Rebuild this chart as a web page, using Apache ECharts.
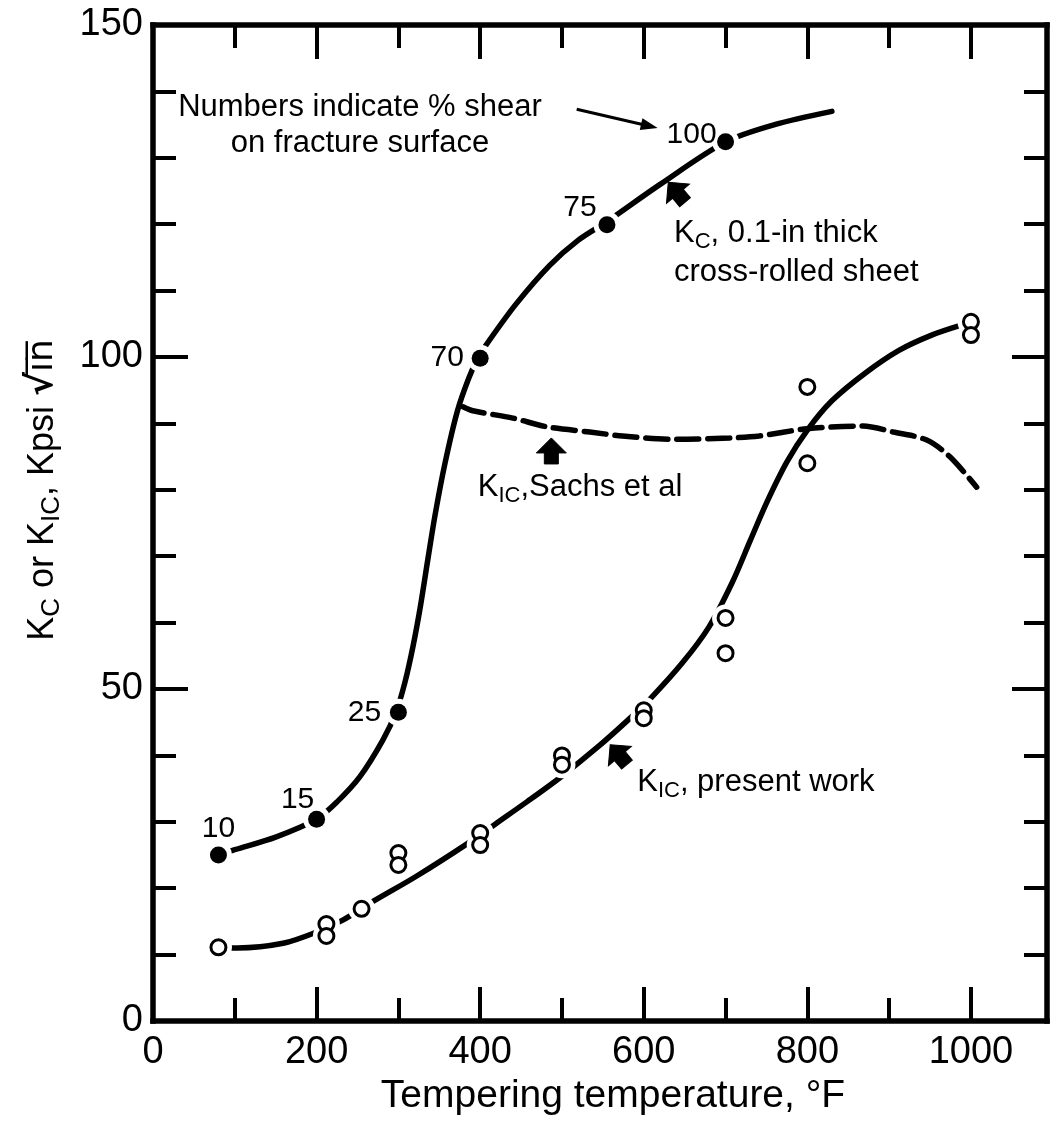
<!DOCTYPE html>
<html><head><meta charset="utf-8">
<script src="https://cdn.jsdelivr.net/npm/echarts@6/dist/echarts.min.js"></script>
<style>html,body{margin:0;padding:0;background:#fff}#c{width:1050px;height:1134px}</style>
</head><body><div id="c"></div>
<script>
// ---------------- data ----------------
const xTickLabels = [0, 200, 400, 600, 800, 1000];
const yTickLabels = [0, 50, 100, 150];

// Kc, 0.1-in thick cross-rolled sheet (filled points, % shear labels)
const kcTemps  = [80, 200, 300, 400, 555, 700];
const kcValues = [25, 30.4, 46.5, 99.8, 119.9, 132.4];
const kcShear  = ['10', '15', '25', '70', '75', '100'];
// fitted curve through the Kc points
const kcCurveX = [80, 100, 150, 200, 225, 253, 281, 297, 308, 318, 327, 336, 345, 357, 372, 386, 397, 410, 444, 485, 520, 555, 620, 700, 760, 830];
const kcCurveY = [25, 25.8, 27.7, 30.4, 33.0, 36.8, 42.3, 46.5, 51.0, 56.5, 62.5, 69.5, 76.3, 84.0, 91.8, 96.8, 99.8, 102.3, 108.0, 113.8, 117.6, 120.4, 126.0, 132.4, 135.0, 137.0];

// KIC, present work (open circles)
const kicTemps  = [80, 212, 212, 255, 300, 300, 400, 400, 500, 500, 600, 600, 700, 700, 800, 800, 1000, 1000];
const kicValues = [11.1, 14.6, 12.8, 16.9, 25.3, 23.5, 28.3, 26.5, 40.0, 38.6, 46.8, 45.6, 60.7, 55.4, 95.5, 84.0, 105.3, 103.3];
const kicCurveX = [80, 103, 159, 200, 232, 269, 322, 383, 420, 457, 497, 546, 585, 607, 647, 680, 708, 730, 750, 775, 800, 830, 871, 912, 952, 988];
const kicCurveY = [11, 11, 11.7, 13.4, 15.2, 18.0, 21.8, 26.6, 29.8, 33.0, 36.6, 41.5, 45.8, 48.4, 53.9, 59.4, 66.0, 72.3, 78.0, 84.2, 89.0, 93.4, 97.6, 101.0, 103.3, 104.8];

// KIC, Sachs et al (dashed)
const sachsCurveX = [379, 391, 440, 481, 534, 574, 640, 705, 741, 800, 868, 905, 946, 974, 1007];
const sachsCurveY = [92.5, 91.9, 90.8, 89.5, 88.7, 88.1, 87.6, 87.8, 88.1, 89.2, 89.6, 88.7, 87.5, 85, 80.4];

// ---------------- layout / style ----------------
const FONT = '"Liberation Sans", Arial, sans-serif';
const INK = '#000';
const X_MAX = 1093;
const kcLabelOffsets = [[0, -26], [-19, -19], [-34, 0], [-33, -1], [-27, -17], [-34, -7]];

const zip = (a, b) => a.map((v, i) => [v, b[i]]);

function xAxisDef(position, interval, tickLen, showLine, showLabel, extra) {
  return Object.assign({
    type: 'value', position: position, min: 0, max: X_MAX, interval: interval,
    axisLine: { show: showLine, onZero: false, lineStyle: { color: INK, width: 5.5, cap: 'square' } },
    axisTick: { show: true, inside: true, length: tickLen, lineStyle: { color: INK, width: 4 } },
    axisLabel: { show: showLabel, margin: 13, fontSize: 38, color: INK, fontFamily: FONT,
      formatter: v => xTickLabels.includes(v) ? String(v) : '' },
    splitLine: { show: false }
  }, extra || {});
}
function yAxisDef(position, showLabel, extra) {
  return Object.assign({
    type: 'value', position: position, min: 0, max: 150, interval: 50,
    axisLine: { show: true, onZero: false, lineStyle: { color: INK, width: 5.5, cap: 'square' } },
    axisTick: { show: true, inside: true, length: 35, lineStyle: { color: INK, width: 4 } },
    minorTick: { show: true, splitNumber: 5, length: 23, lineStyle: { color: INK, width: 4 } },
    axisLabel: { show: showLabel, margin: 10, fontSize: 38, color: INK, fontFamily: FONT,
      formatter: v => yTickLabels.includes(v) ? String(v) : '' },
    splitLine: { show: false }, minorSplitLine: { show: false }
  }, extra || {});
}

const kcPoints = kcTemps.map((t, i) => ({
  value: [t, kcValues[i]],
  label: { offset: kcLabelOffsets[i] }
}));

const option = {
  backgroundColor: '#fff',
  animation: false,
  grid: { left: 153, right: 3, top: 25, bottom: 113, containLabel: false },
  xAxis: [
    xAxisDef('bottom', 200, 34, true, true, {
      name: 'Tempering temperature, °F', nameLocation: 'middle', nameGap: 54,
      nameTextStyle: { fontSize: 39, color: INK, fontFamily: FONT, padding: [0, 0, 0, 26] }
    }),
    xAxisDef('bottom', 100, 23, false, false),
    xAxisDef('top', 200, 34, true, false),
    xAxisDef('top', 100, 23, false, false)
  ],
  yAxis: [
    yAxisDef('left', true, {
      name: '{k|K}{s|C}{k| or K}{s|IC}{k|, Kpsi }{r|√}{o|i\u0305n\u0305}',
      nameLocation: 'middle', nameGap: 88,
      nameTextStyle: {
        color: INK, fontFamily: FONT, padding: [0, 0, 0, 66],
        rich: {
          k: { fontSize: 36, fontFamily: FONT, color: INK, lineHeight: 44 },
          s: { fontSize: 26, fontFamily: FONT, color: INK, lineHeight: 30, verticalAlign: 'bottom' },
          r: { fontSize: 36, fontFamily: '"DejaVu Sans", sans-serif', fontWeight: 'bold', color: INK, lineHeight: 44 },
          o: { fontSize: 36, fontFamily: '"DejaVu Sans", sans-serif', color: INK, lineHeight: 44 }
        }
      }
    }),
    yAxisDef('right', false)
  ],
  series: [
    { type: 'line', name: 'Kc curve', data: zip(kcCurveX, kcCurveY), smooth: 0.3, showSymbol: false,
      lineStyle: { color: INK, width: 5.5, cap: 'round' }, z: 2 },
    { type: 'line', name: 'KIC curve', data: zip(kicCurveX, kicCurveY), smooth: 0.3, showSymbol: false,
      lineStyle: { color: INK, width: 5.5, cap: 'round' }, z: 2 },
    { type: 'line', name: 'Sachs', data: zip(sachsCurveX, sachsCurveY), smooth: 0.3, showSymbol: false,
      lineStyle: { color: INK, width: 5.5, type: [22, 9], cap: 'round' }, z: 2 },
    // white halos leaving small gaps where the curves meet the markers
    { type: 'scatter', name: 'halo', data: zip(kcTemps, kcValues).concat(zip(kicTemps, kicValues)),
      symbol: 'circle', symbolSize: 27, itemStyle: { color: '#fff', opacity: 1 }, z: 3, silent: true },
    { type: 'scatter', name: 'KIC points', data: zip(kicTemps, kicValues), symbol: 'circle', symbolSize: 15,
      itemStyle: { color: '#fff', borderColor: INK, borderWidth: 3, opacity: 1 }, z: 4 },
    { type: 'scatter', name: 'Kc points', data: kcPoints, symbol: 'circle', symbolSize: 17,
      itemStyle: { color: INK, opacity: 1 }, z: 5,
      label: { show: true, position: 'inside', color: INK, opacity: 1, fontSize: 30, fontFamily: FONT,
        formatter: p => kcShear[p.dataIndex] }
    }
  ]
};

const chart = echarts.init(document.getElementById('c'), null, { renderer: 'canvas' });
chart.setOption(option);

// ---------------- annotations (anchored in data coordinates) ----------------
const px = (x, y) => chart.convertToPixel({ xAxisIndex: 0, yAxisIndex: 0 }, [x, y]);
const richK = {
  k: { fontSize: 31, fontFamily: FONT, color: INK, lineHeight: 39 },
  s: { fontSize: 22, fontFamily: FONT, color: INK, lineHeight: 26, verticalAlign: 'bottom' }
};
const notes = [
  { at: [253, 134.9], align: 'center', text: '{k|Numbers indicate % shear}\n{k|on fracture surface}', lh: 36 },
  { at: [637, 115.7], align: 'left', text: '{k|K}{s|C}{k|, 0.1-in thick}\n{k|cross-rolled sheet}', lh: 39 },
  { at: [397, 80.3], align: 'left', text: '{k|K}{s|IC}{k|,Sachs et al}', lh: 39 },
  { at: [592, 36], align: 'left', text: '{k|K}{s|IC}{k|, present work}', lh: 39 }
];
const arrows = [
  { at: [641, 124.7], rot: 0.7 },
  { at: [487, 85.7], rot: 0 },
  { at: [570, 40], rot: 0.7 }
];
const leader = { from: [518, 137.3], to: [617, 134.5] };
const arrowShape = [[0, -14], [15, 1], [7, 1], [7, 12], [-7, 12], [-7, 1], [-15, 1]];

const graphics = [];
notes.forEach(n => {
  const p = px(n.at[0], n.at[1]);
  const rich = JSON.parse(JSON.stringify(richK));
  rich.k.lineHeight = n.lh;
  graphics.push({
    type: 'text', x: p[0], y: p[1], z: 10,
    style: { text: n.text, rich: rich, align: n.align, verticalAlign: 'middle', fill: INK, font: '31px ' + FONT }
  });
});
arrows.forEach(a => {
  const p = px(a.at[0], a.at[1]);
  graphics.push({
    type: 'polygon', x: p[0], y: p[1], rotation: a.rot, z: 10,
    shape: { points: arrowShape }, style: { fill: INK, stroke: INK, lineWidth: 1 }
  });
});
// leader arrow from the note to the "100" label
(function () {
  const a = px(leader.from[0], leader.from[1]);
  const b = px(leader.to[0], leader.to[1]);
  const ang = Math.atan2(b[1] - a[1], b[0] - a[0]);
  graphics.push({
    type: 'line', z: 10,
    shape: { x1: a[0], y1: a[1], x2: b[0] - 10 * Math.cos(ang), y2: b[1] - 10 * Math.sin(ang) },
    style: { stroke: INK, lineWidth: 3 }
  });
  graphics.push({
    type: 'polygon', x: b[0], y: b[1], rotation: -ang, z: 10,
    shape: { points: [[0, 0], [-17, -6], [-17, 6]] }, style: { fill: INK }
  });
})();
chart.setOption({ graphic: graphics });
</script>
</body></html>
